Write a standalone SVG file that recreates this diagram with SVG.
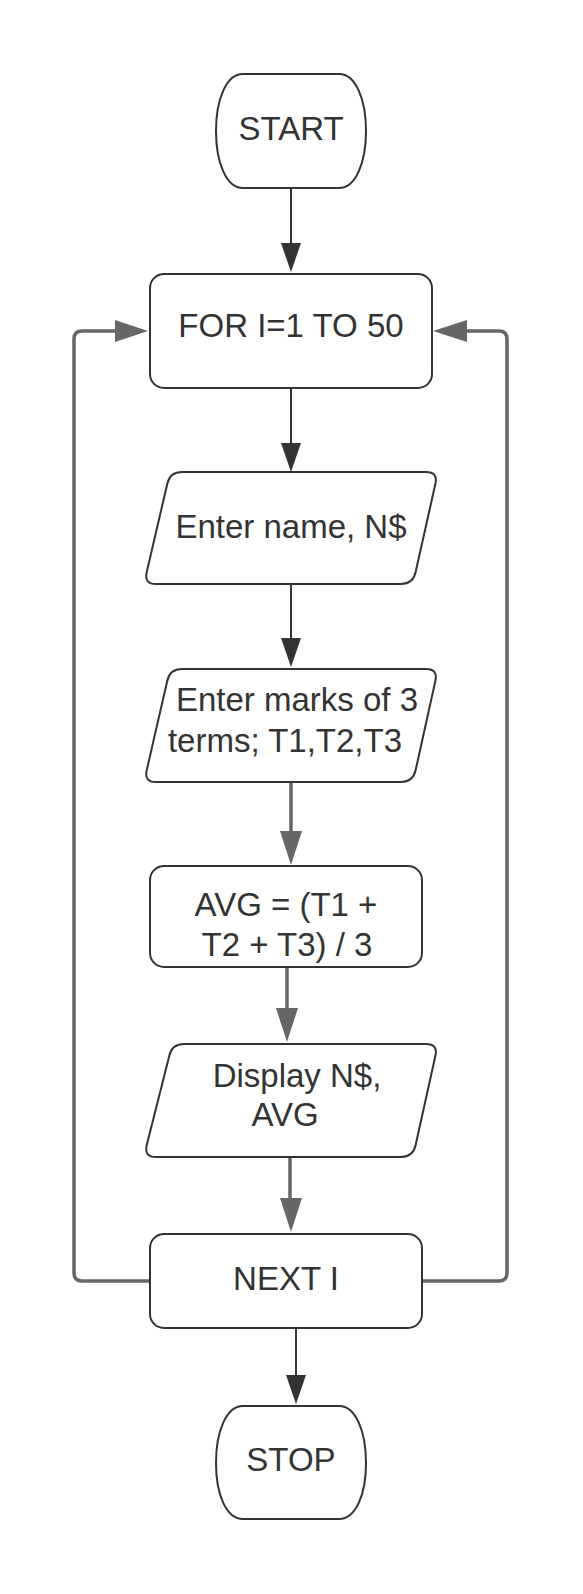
<svg xmlns="http://www.w3.org/2000/svg" width="583" height="1594" viewBox="0 0 583 1594">
<style>
.node{fill:#ffffff;stroke:#333333;stroke-width:2}
.t{font-family:"Liberation Sans",Arial,sans-serif;font-size:33px;fill:#333333;text-anchor:middle}
.cd{fill:none;stroke:#333333;stroke-width:2}
.cg{fill:none;stroke:#666666;stroke-width:3.5}
.hd{fill:#333333}
.hg{fill:#666666}
</style>
<rect width="583" height="1594" fill="#ffffff"/>
<g id="connectors">
  <line class="cd" x1="291" y1="188" x2="291" y2="245"/>
  <polygon class="hd" points="281,243 301,243 291,272"/>
  <line class="cd" x1="291" y1="388" x2="291" y2="445"/>
  <polygon class="hd" points="281,443 301,443 291,472"/>
  <line class="cd" x1="291" y1="584" x2="291" y2="640"/>
  <polygon class="hd" points="281,638 301,638 291,667"/>
  <line class="cg" x1="291" y1="782" x2="291" y2="834"/>
  <polygon class="hg" points="280,831 302,831 291,865"/>
  <line class="cg" x1="287" y1="967" x2="287" y2="1010"/>
  <polygon class="hg" points="276,1008 298,1008 287,1042"/>
  <line class="cg" x1="290" y1="1157" x2="290" y2="1200"/>
  <polygon class="hg" points="280,1198 302,1198 291,1232"/>
  <line class="cd" x1="296" y1="1328" x2="296" y2="1377"/>
  <polygon class="hd" points="286,1375 306,1375 296,1404"/>
  <path class="cg" d="M150 1281 H82 Q74 1281 74 1273 V339 Q74 331 82 331 H117"/>
  <polygon class="hg" points="115,320 148,331 115,342"/>
  <path class="cg" d="M422 1281 H499 Q507 1281 507 1273 V339 Q507 331 499 331 H465"/>
  <polygon class="hg" points="467,320 433,331 467,342"/>
</g>
<g id="start">
  <path class="node" d="M243 74 H339 C356 74 366 100 366 131 C366 162 356 188 339 188 H243 C226 188 216 162 216 131 C216 100 226 74 243 74 Z"/>
  <text class="t" x="291" y="140">START</text>
</g>
<g id="for">
  <rect class="node" x="150" y="274" width="282" height="114" rx="14"/>
  <text class="t" x="291" y="337">FOR I=1 TO 50</text>
</g>
<g id="enter-name">
  <path class="node" transform="translate(144,472)" d="M38 0 H282 Q294 0 291.4 11.7 L271.6 100.3 Q269 112 257 112 H12 Q0 112 2.7 100.3 L23.3 11.7 Q26 0 38 0 Z"/>
  <text class="t" x="291" y="538">Enter name, N$</text>
</g>
<g id="enter-marks">
  <path class="node" transform="translate(144,669)" d="M38 0 H282 Q294 0 291.4 11.7 L271.6 101.3 Q269 113 257 113 H12 Q0 113 2.7 101.3 L23.3 11.7 Q26 0 38 0 Z"/>
  <text class="t" x="297" y="711">Enter marks of 3</text>
  <text class="t" x="285" y="752">terms; T1,T2,T3</text>
</g>
<g id="avg">
  <rect class="node" x="150" y="866" width="272" height="101" rx="14"/>
  <text class="t" x="286" y="916">AVG = (T1 +</text>
  <text class="t" x="287" y="956">T2 + T3) / 3</text>
</g>
<g id="display">
  <path class="node" transform="translate(144,1044)" d="M40 0 H282 Q294 0 291.4 11.7 L271.6 101.3 Q269 113 257 113 H12 Q0 113 2.7 101.3 L25.3 11.7 Q28 0 40 0 Z"/>
  <text class="t" x="297" y="1087">Display N$,</text>
  <text class="t" x="285" y="1126">AVG</text>
</g>
<g id="next">
  <rect class="node" x="150" y="1234" width="272" height="94" rx="14"/>
  <text class="t" x="286" y="1290">NEXT I</text>
</g>
<g id="stop">
  <path class="node" d="M243 1406 H339 C356 1406 366 1432 366 1463 C366 1494 356 1519 339 1519 H243 C226 1519 216 1494 216 1463 C216 1432 226 1406 243 1406 Z"/>
  <text class="t" x="291" y="1471">STOP</text>
</g>
</svg>
